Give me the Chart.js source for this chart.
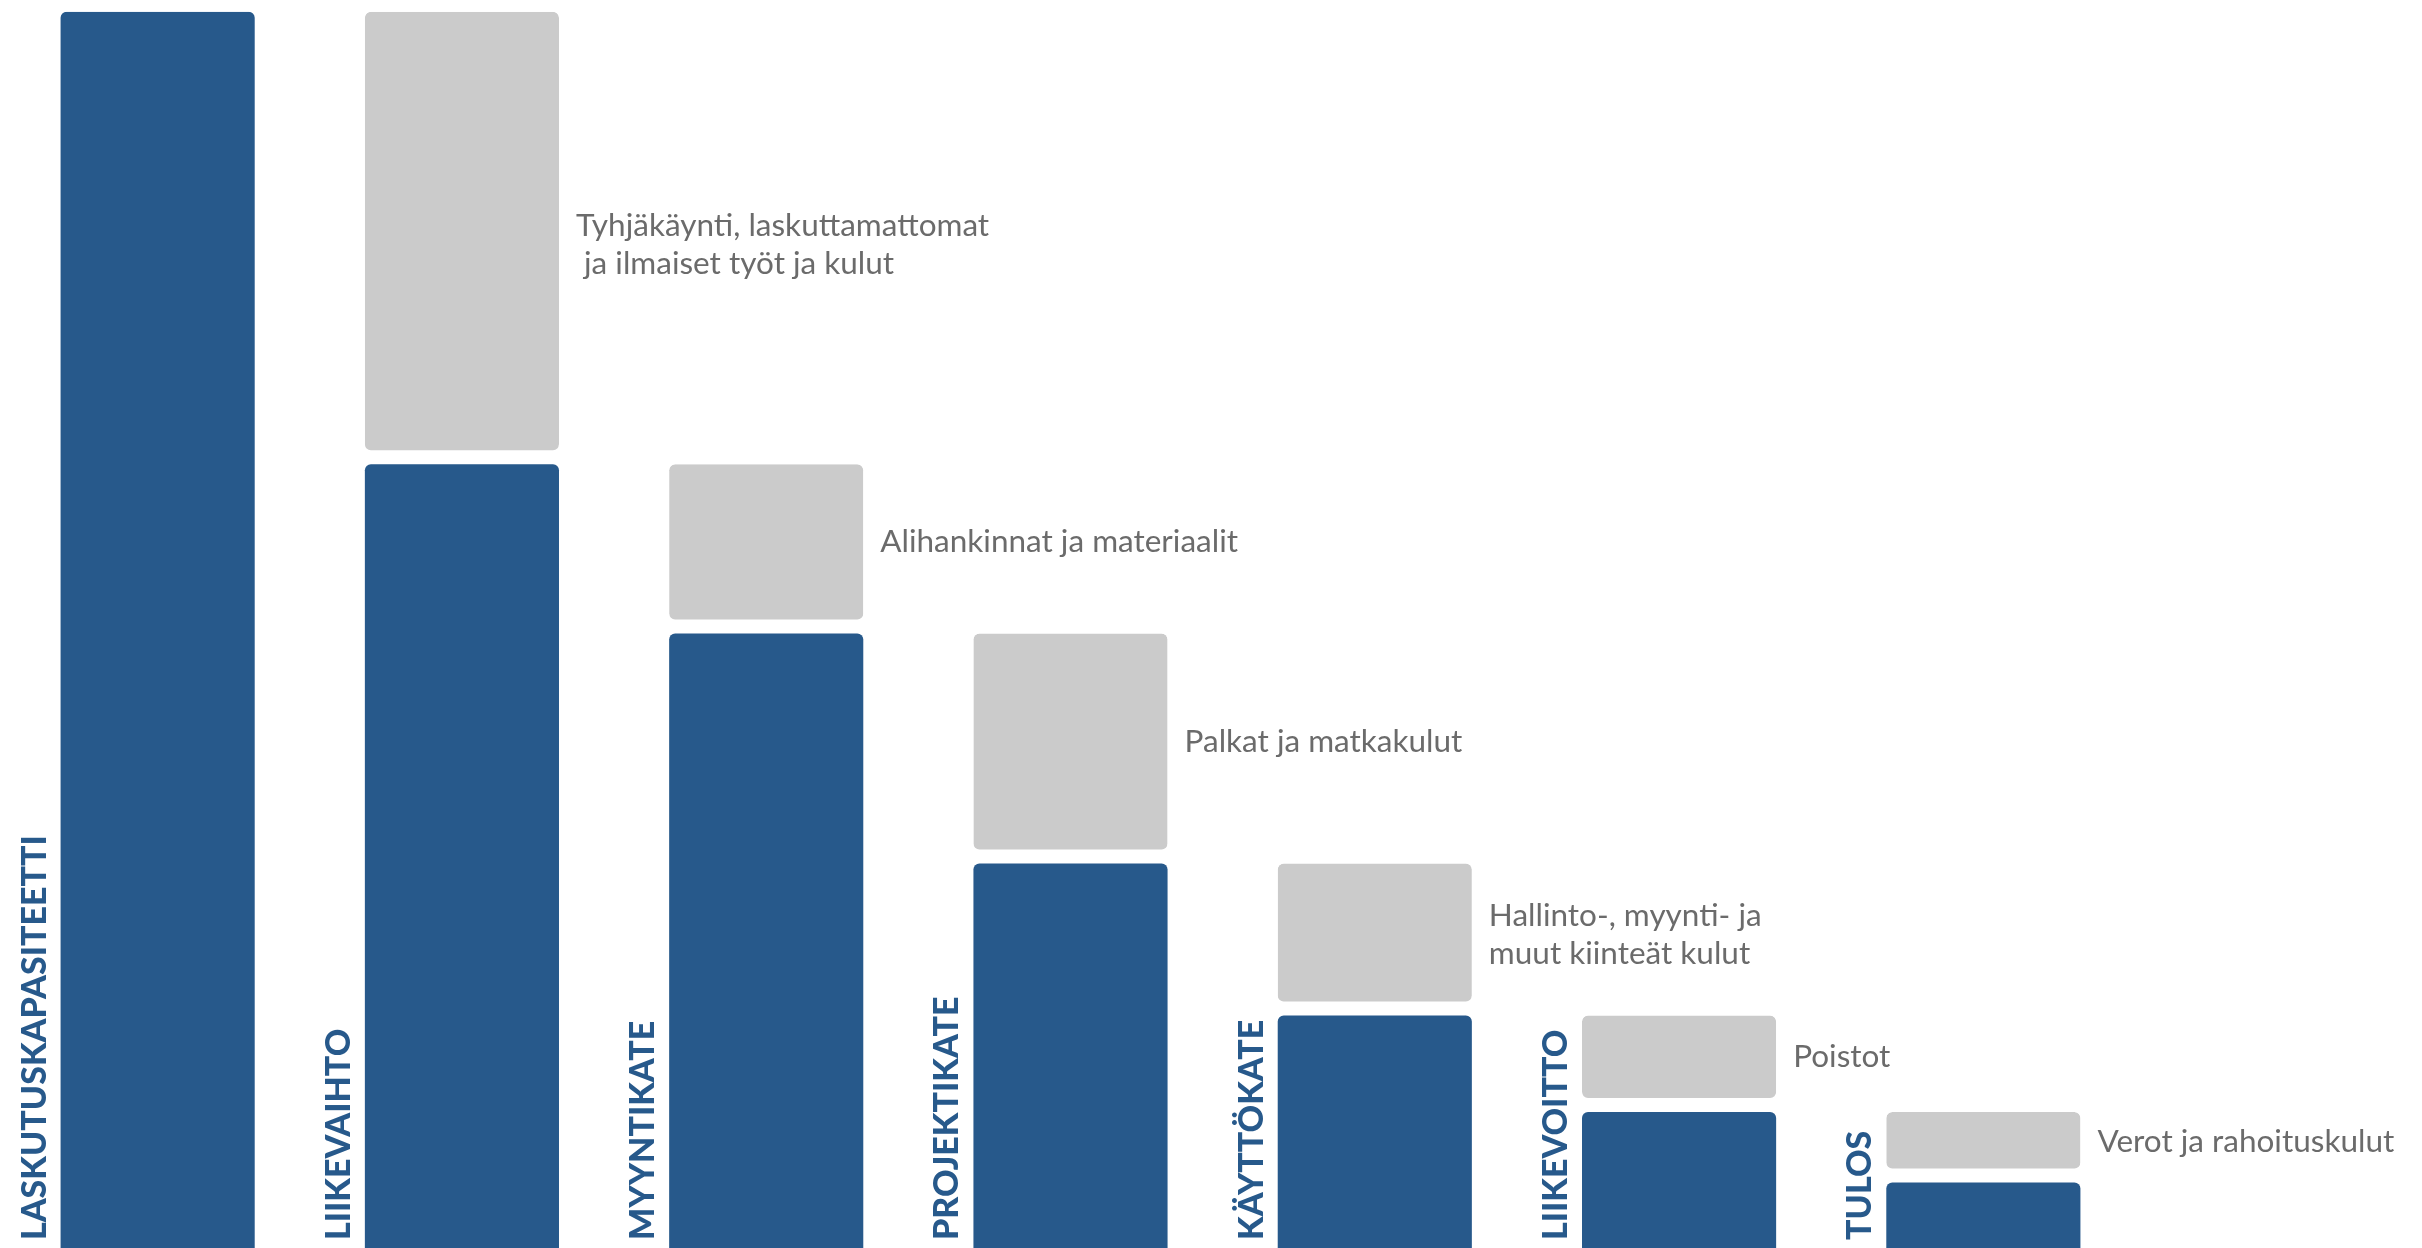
<!DOCTYPE html>
<html>
<head>
<meta charset="utf-8">
<title>Kannattavuuden vesiputous</title>
<script src="https://cdn.jsdelivr.net/npm/chart.js@4/dist/chart.umd.min.js"></script>
<style>
  html, body { margin: 0; padding: 0; background: #fff; overflow: hidden; }
  canvas { display: block; }
</style>
</head>
<body>
<canvas id="waterfall" width="2422" height="1248"></canvas>
<script>
// kategoriat (pystytekstit palkkien vasemmalla puolella)
const categories = ['LASKUTUSKAPASITEETTI', 'LIIKEVAIHTO', 'MYYNTIKATE', 'PROJEKTIKATE', 'KÄYTTÖKATE', 'LIIKEVOITTO', 'TULOS']
// sinisten palkkien korkeus, % laskutuskapasiteetista
const levels = [100, 63.4, 49.7, 31.1, 18.8, 11.0, 5.3]
// harmaiden palkkien selitteet
const costLabels = [
    null,
    ['Tyhjäkäynti, laskuttamattomat', ' ja ilmaiset työt ja kulut'],
    ['Alihankinnat ja materiaalit'],
    ['Palkat ja matkakulut'],
    ['Hallinto-, myynti- ja', 'muut kiinteät kulut'],
    ['Poistot'],
    ['Verot ja rahoituskulut'],
]

const BLUE = '#27598b'
const GREY = '#cbcbcb'
const TEXT_GREY = '#6b6b6b'

// harmaa palkki = väli edellisen ja nykyisen tason välillä
const costs = levels.map((v, i) => i === 0 ? null : [v, levels[i - 1]])

const labelPlugin = {
    id: 'waterfallLabels',
    afterDatasetsDraw(chart, args, opts) {
        const ctx = chart.ctx
        const blueMeta = chart.getDatasetMeta(0)
        const greyMeta = chart.getDatasetMeta(1)
        ctx.save()

        // pystysuorat kategorianimet
        ctx.fillStyle = BLUE
        ctx.font = '900 34px Lato'
        ctx.textAlign = 'left'
        ctx.textBaseline = 'alphabetic'
        blueMeta.data.forEach((bar, i) => {
            const left = bar.x - bar.width / 2
            ctx.save()
            ctx.translate(left - 15, chart.chartArea.bottom - 8)
            ctx.rotate(-Math.PI / 2)
            ctx.fillText(categories[i], 0, 0)
            ctx.restore()
        })

        // kulujen selitteet harmaiden palkkien oikealla puolella
        ctx.fillStyle = TEXT_GREY
        ctx.font = '31.5px Lato'
        ctx.textBaseline = 'middle'
        const lineHeight = 38
        greyMeta.data.forEach((bar, i) => {
            const lines = costLabels[i]
            if (!lines) return
            const x = bar.x + bar.width / 2 + 17
            const top = Math.min(bar.y, bar.base)
            const bottom = Math.max(bar.y, bar.base) - 14
            const mid = (top + bottom) / 2 + (opts.nudge[i] || 0)
            lines.forEach((line, k) => {
                const y = mid + (k - (lines.length - 1) / 2) * lineHeight
                ctx.fillText(line, x, y)
            })
        })
        ctx.restore()
    }
}

new Chart(document.getElementById('waterfall'), {
    type: 'bar',
    data: {
        labels: categories,
        datasets: [
            {
                label: 'Taso',
                data: levels,
                backgroundColor: BLUE,
                borderWidth: 0,
                borderRadius: 6,
            },
            {
                label: 'Kulut',
                data: costs,
                backgroundColor: GREY,
                borderColor: '#ffffff',
                borderWidth: { top: 0, left: 0, right: 0, bottom: 14 },
                borderSkipped: false,
                borderRadius: { topLeft: 6, topRight: 6, bottomLeft: 20, bottomRight: 20 },
            },
        ]
    },
    options: {
        responsive: false,
        animation: false,
        devicePixelRatio: 1,
        layout: { padding: { left: 5.5, right: 286.5, top: 11.7, bottom: 0 } },
        datasets: {
            bar: {
                grouped: false,
                categoryPercentage: 1,
                barPercentage: 0.638,
            }
        },
        scales: {
            x: { display: false, offset: true },
            y: { display: false, min: 0, max: 100 },
        },
        plugins: {
            legend: { display: false },
            tooltip: { enabled: false },
            waterfallLabels: { nudge: [0, 14, 0, 0, 2, 0, 2] },
        }
    },
    plugins: [labelPlugin]
})
</script>
</body>
</html>
